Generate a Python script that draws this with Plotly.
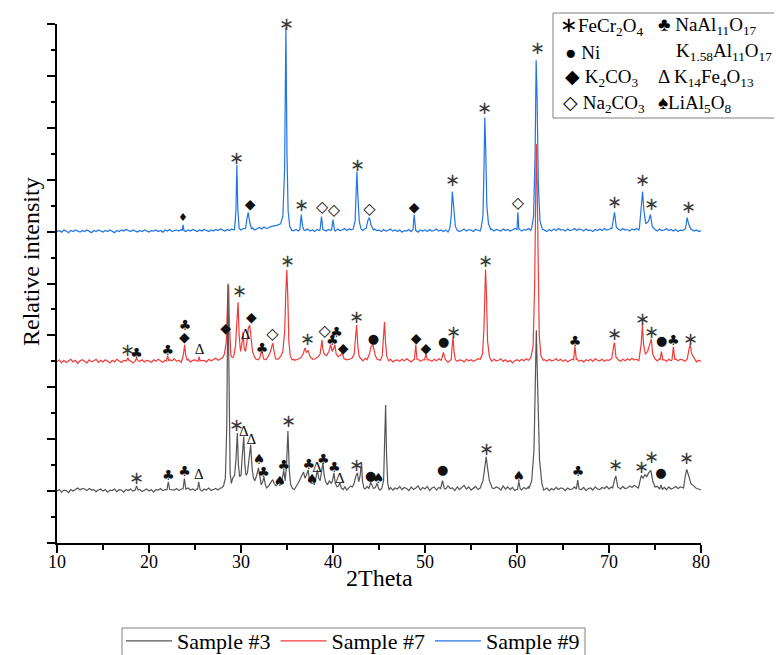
import plotly.graph_objects as go

# ---------------- data ----------------
series_names = ["Sample #3", "Sample #7", "Sample #9"]
series_offsets = [1.0, 3.49, 6.0]          # vertical offsets of the stacked patterns
grid_start = 10.0                           # 2Theta of first baseline sample
grid_step = 0.25                            # 2Theta step of baseline samples

# baseline noise (hundredths of an intensity unit), 10..80 step 0.25
s3_noise = [0,3,-2,2, 1,-3,3,0, 3,6,2,5, 4,1,5,2, 3,-1,2,4, 0,3,-2,2, 1,4,-1,3, 2,-2,3,1, 4,0,3,2, 3,-1,2,4,
            0,3,-2,3, 2,5,1,3, 4,0,3,2, 5,1,4,2, 3,6,2,4, 1,5,3,0, 4,2,6,1, 3,5,2,6, 5,8,6,9, 8,6,9,7,
            8,6,9,7, 6,8,5,7, 6,9,7,8, 10,7,9,8, 6,9,7,10, 8,11,9,12, 10,13,11,14, 12,10,13,11, 12,14,10,13, 11,9,12,10,
            9,7,10,8, 6,9,5,8, 7,10,6,9, 8,5,9,6, 7,4,8,5, 6,2,5,1, 3,7,2,6, 4,9,3,7, 5,1,8,3, 6,10,2,7,
            4,9,1,6, 8,2,7,3, 9,4,10,5, 6,1,8,3, 7,11,4,8, 2,6,9,3, 8,4,11,5, 3,9,5,8, 6,2,10,4, 8,3,7,1,
            5,9,2,7, 4,8,3,6, 2,-1,4,0, 3,6,1,5, 2,7,3,6, 5,1,6,3, 4,8,2,6, 3,7,1,5, 6,2,8,4, 3,7,5,9,
            4,8,6,10, 7,4,9,5, 6,10,7,11, 8,5,10,6, 7,11,8,12, 6,9,5,8, 7,3,8,4, 6,9,5,8, 7,4,9,5, 3,6,1,4,
            2]
s7_noise = [0,4,-2,3, -1,2,5,0, 3,-3,2,4, 1,-2,4,0, 2,5,-1,3, 0,4,1,-2, 3,0,5,2, -1,3,1,4, 2,-2,3,5, 1,4,0,3,
            2,-1,4,1, 5,2,-1,3, 0,4,2,6, 1,3,-1,4, 2,5,0,3, 4,1,6,2, 3,0,5,2, 4,7,3,6, 5,8,4,7, 6,3,8,5,
            7,4,9,6, 5,8,4,7, 3,6,2,5, 4,7,3,6, 5,2,6,3, 4,7,2,5, 6,3,8,4, 7,5,9,6, 4,8,5,7, 6,9,5,8,
            7,4,8,5, 3,6,2,5, 4,1,5,3, 6,2,7,4, 5,8,4,7, 3,6,1,4, 2,5,0,3, 4,1,5,2, 6,3,0,4, 2,5,1,4,
            3,0,4,1, 5,2,6,3, 1,4,-1,3, 2,5,1,4, 3,0,5,2, 4,1,3,6, 2,5,0,3, 4,1,5,2, 3,6,1,4, 0,3,-2,2,
            4,1,5,2, 6,3,1,4, 2,-1,3,0, 4,1,5,2, 3,6,2,5, 1,4,0,3, 5,2,6,1, 3,0,4,2, 5,1,6,3, 2,5,1,4,
            3,6,2,5, 4,1,5,2, 6,3,7,4, 5,2,6,3, 4,7,3,6, 5,2,6,3, 4,1,5,2, 3,6,2,5, 4,1,3,5, 2,4,0,3,
            1]
s9_noise = [0,2,-1,3, 1,-2,2,0, 3,1,-1,2, 0,3,1,-2, 2,0,3,1, -1,2,0,3, 1,-2,2,0, 3,1,4,2, 0,3,1,-1, 2,0,3,1,
            -1,2,1,3, 0,2,-1,3, 1,4,0,2, 3,1,4,2, 0,3,1,4, 2,0,3,1, 4,2,0,3, 1,4,2,5, 3,1,4,2, 5,3,6,4,
            3,6,2,5, 4,7,3,6, 8,5,9,6, 10,7,11,8, 9,12,8,11, 6,3,5,2, 4,1,3,0, 2,5,1,3, 0,4,2,5, 3,1,4,2,
            4,1,5,2, 3,6,2,5, 4,7,3,6, 5,2,6,3, 4,1,5,2, 3,0,4,1, 2,5,1,3, 0,3,-1,2, 1,4,0,3, 2,-1,3,1,
            3,0,4,1, 2,5,1,3, 0,3,-1,2, 4,1,3,0, 2,5,1,4, 3,0,4,2, 1,4,0,3, 2,5,1,4, 3,1,5,2, 4,1,3,6,
            2,5,1,4, 3,6,2,5, 4,1,5,2, 3,0,4,1, 5,2,6,3, 4,1,5,2, 3,6,2,5, 4,1,5,2, 3,0,4,2, 5,2,6,3,
            4,7,3,6, 5,2,6,3, 4,1,5,3, 6,3,7,4, 5,2,6,3, 4,1,5,2, 3,6,2,4, 1,4,0,3, 2,5,3,6, 4,1,3,0,
            2]

# diffraction peaks: groups of (2Theta, intensity above baseline)
s3_peaks = [
    [(18.5, 0.02), (18.65, 0.10), (18.8, 0.02)],
    [(21.95, 0.03), (22.1, 0.18), (22.25, 0.03)],
    [(23.7, 0.04), (23.85, 0.24), (24.0, 0.04)],
    [(25.28, 0.03), (25.4, 0.18), (25.55, 0.03)],
    [(27.9, 0.06), (28.1, 0.10), (28.3, 0.25), (28.45, 1.2), (28.58, 4.0), (28.7, 1.5), (28.82, 0.35),
     (28.95, 0.15), (29.1, 0.25), (29.3, 0.30), (29.45, 0.6), (29.6, 1.12), (29.72, 0.5), (29.85, 0.28),
     (30.0, 0.30), (30.15, 0.7), (30.3, 1.05), (30.42, 0.5), (30.55, 0.30), (30.7, 0.35), (30.9, 0.7),
     (31.05, 0.89), (31.2, 0.45), (31.35, 0.25), (31.5, 0.20), (31.7, 0.30), (31.9, 0.45), (32.05, 0.25),
     (32.2, 0.12), (32.35, 0.18), (32.5, 0.27), (32.65, 0.12), (32.8, 0.06), (33.0, 0.10), (33.2, 0.16),
     (33.45, 0.22), (33.6, 0.15), (33.8, 0.10), (34.0, 0.14), (34.2, 0.18), (34.35, 0.12), (34.5, 0.25),
     (34.65, 0.40), (34.8, 0.20), (34.95, 0.5), (35.1, 1.16), (35.25, 0.4), (35.4, 0.12), (35.6, 0.05),
     (35.8, 0.03), (36.0, 0.08), (36.2, 0.15), (36.4, 0.22), (36.6, 0.30), (36.8, 0.37), (36.95, 0.25),
     (37.1, 0.30), (37.3, 0.41), (37.45, 0.20), (37.6, 0.15), (37.8, 0.25), (37.95, 0.12), (38.1, 0.20),
     (38.3, 0.41), (38.45, 0.25), (38.6, 0.20), (38.75, 0.35), (38.9, 0.54), (39.05, 0.30), (39.2, 0.18),
     (39.4, 0.12), (39.6, 0.20), (39.8, 0.15), (39.95, 0.20), (40.1, 0.35), (40.25, 0.15), (40.45, 0.08),
     (40.6, 0.10), (40.75, 0.16), (40.9, 0.06), (41.1, 0.03), (41.3, 0.08), (41.5, 0.02), (41.7, 0.06),
     (41.9, 0.10), (42.1, 0.08), (42.3, 0.15), (42.5, 0.30), (42.65, 0.35), (42.8, 0.18), (42.95, 0.30),
     (43.1, 0.56), (43.2, 0.20), (43.35, 0.06), (43.5, 0.04), (43.7, 0.09), (43.9, 0.05), (44.1, 0.17),
     (44.25, 0.10), (44.4, 0.05), (44.6, 0.07), (44.8, 0.15), (44.95, 0.05), (45.1, 0.02), (45.3, 0.05),
     (45.5, 0.20), (45.62, 1.0), (45.72, 1.66), (45.82, 0.7), (45.95, 0.15), (46.1, 0.02)],
    [(51.7, 0.05), (51.9, 0.20), (52.1, 0.05)],
    [(56.0, 0.06), (56.3, 0.20), (56.5, 0.50), (56.65, 0.66), (56.8, 0.45), (57.0, 0.20), (57.3, 0.06)],
    [(60.05, 0.04), (60.2, 0.19), (60.35, 0.04)],
    [(61.3, 0.05), (61.6, 0.20), (61.85, 0.8), (62.0, 2.5), (62.1, 3.1), (62.22, 2.2), (62.45, 0.6),
     (62.7, 0.15), (62.9, 0.02)],
    [(66.45, 0.04), (66.6, 0.21), (66.75, 0.04)],
    [(70.4, 0.06), (70.6, 0.22), (70.75, 0.29), (70.95, 0.08)],
    [(73.2, 0.06), (73.5, 0.30), (73.7, 0.25), (73.9, 0.32), (74.1, 0.28), (74.3, 0.35), (74.55, 0.40),
     (74.75, 0.20), (75.0, 0.08)],
    [(75.5, 0.04), (75.65, 0.12), (75.8, 0.03)],
    [(78.1, 0.06), (78.3, 0.30), (78.45, 0.42), (78.65, 0.30), (78.9, 0.15), (79.2, 0.10), (79.5, 0.05)],
]
s7_peaks = [
    [(17.55, 0.02), (17.7, 0.08), (17.85, 0.02)],
    [(18.5, 0.02), (18.65, 0.07), (18.8, 0.02)],
    [(21.9, 0.02), (22.03, 0.12), (22.15, 0.02)],
    [(23.6, 0.04), (23.75, 0.15), (23.87, 0.33), (24.0, 0.12), (24.15, 0.03)],
    [(25.35, 0.02), (25.45, 0.10), (25.55, 0.02)],
    [(27.8, 0.05), (28.0, 0.08), (28.2, 0.15), (28.4, 0.40), (28.55, 1.2), (28.65, 1.48), (28.75, 0.7),
     (28.9, 0.12), (29.05, 0.08), (29.2, 0.10), (29.4, 0.30), (29.55, 0.7), (29.68, 1.15), (29.8, 0.5),
     (29.95, 0.20), (30.1, 0.35), (30.22, 0.58), (30.35, 0.25), (30.5, 0.20), (30.65, 0.40), (30.8, 0.65),
     (30.95, 0.71), (31.1, 0.40), (31.25, 0.20), (31.45, 0.10), (31.65, 0.05), (31.85, 0.04), (32.05, 0.08),
     (32.25, 0.23), (32.45, 0.06), (32.7, 0.04), (32.95, 0.10), (33.2, 0.20), (33.45, 0.36), (33.6, 0.20),
     (33.75, 0.06), (34.0, 0.05), (34.3, 0.10), (34.55, 0.20), (34.75, 0.6), (34.88, 1.4), (34.98, 1.77),
     (35.08, 1.3), (35.2, 0.4), (35.35, 0.12), (35.55, 0.04)],
    [(35.8, 0.03), (36.2, 0.05), (36.5, 0.08), (36.75, 0.15), (36.95, 0.27), (37.1, 0.18), (37.3, 0.22),
     (37.5, 0.10), (37.8, 0.05), (38.1, 0.06), (38.4, 0.10), (38.6, 0.15), (38.8, 0.42), (38.9, 0.25),
     (39.05, 0.15), (39.3, 0.12), (39.55, 0.20), (39.75, 0.33), (39.9, 0.20), (40.05, 0.25), (40.2, 0.33),
     (40.35, 0.15), (40.55, 0.10), (40.8, 0.12), (41.0, 0.17), (41.2, 0.06), (41.5, 0.04), (41.8, 0.05),
     (42.1, 0.08), (42.3, 0.15), (42.45, 0.45), (42.57, 0.71), (42.7, 0.30), (42.85, 0.10), (43.1, 0.05)],
    [(43.7, 0.04), (43.95, 0.15), (44.15, 0.30), (44.35, 0.32), (44.6, 0.12), (44.8, 0.05)],
    [(45.15, 0.03), (45.35, 0.12), (45.5, 0.45), (45.6, 0.77), (45.7, 0.40), (45.85, 0.10), (46.05, 0.02)],
    [(48.85, 0.05), (49.0, 0.33), (49.12, 0.05)],
    [(49.95, 0.04), (50.1, 0.15), (50.25, 0.04)],
    [(51.8, 0.05), (52.0, 0.18), (52.2, 0.05)],
    [(52.85, 0.05), (52.95, 0.30), (53.05, 0.48), (53.15, 0.20), (53.3, 0.04)],
    [(56.0, 0.05), (56.25, 0.15), (56.4, 0.6), (56.5, 1.5), (56.58, 1.78), (56.68, 1.3), (56.8, 0.4),
     (57.0, 0.10), (57.2, 0.04)],
    [(61.5, 0.08), (61.75, 0.30), (61.92, 1.5), (62.02, 3.2), (62.1, 4.2), (62.18, 3.5), (62.28, 1.6),
     (62.42, 0.5), (62.6, 0.12), (62.85, 0.03)],
    [(66.15, 0.04), (66.3, 0.30), (66.45, 0.04)],
    [(70.3, 0.06), (70.5, 0.30), (70.6, 0.37), (70.75, 0.10)],
    [(73.3, 0.08), (73.5, 0.35), (73.63, 0.71), (73.75, 0.35), (73.95, 0.15), (74.2, 0.20), (74.45, 0.35),
     (74.6, 0.44), (74.75, 0.15), (75.0, 0.06)],
    [(75.55, 0.04), (75.7, 0.20), (75.85, 0.04)],
    [(76.85, 0.04), (77.0, 0.29), (77.15, 0.04)],
    [(78.5, 0.05), (78.7, 0.25), (78.82, 0.33), (79.0, 0.15), (79.25, 0.06)],
]
s9_peaks = [
    [(23.6, 0.02), (23.7, 0.13), (23.8, 0.02)],
    [(29.3, 0.05), (29.45, 0.40), (29.55, 1.29), (29.65, 0.45), (29.8, 0.06)],
    [(30.5, 0.06), (30.65, 0.25), (30.78, 0.37), (30.95, 0.18), (31.15, 0.05)],
    [(32.8, 0.06), (33.3, 0.10), (33.9, 0.12), (34.3, 0.15), (34.55, 0.30), (34.74, 1.2), (34.88, 3.93),
     (35.0, 1.5), (35.12, 0.4), (35.3, 0.10), (35.55, 0.02)],
    [(36.4, 0.04), (36.55, 0.33), (36.7, 0.10), (36.85, 0.03)],
    [(38.6, 0.04), (38.75, 0.29), (38.9, 0.04)],
    [(39.85, 0.04), (40.0, 0.23), (40.15, 0.04)],
    [(42.2, 0.05), (42.4, 0.20), (42.52, 0.8), (42.6, 1.16), (42.7, 0.7), (42.85, 0.20), (43.05, 0.05)],
    [(43.6, 0.06), (43.8, 0.22), (43.95, 0.27), (44.15, 0.12), (44.4, 0.03)],
    [(48.7, 0.04), (48.82, 0.33), (48.95, 0.04)],
    [(52.7, 0.06), (52.85, 0.30), (52.97, 0.77), (53.1, 0.45), (53.3, 0.10), (53.5, 0.03)],
    [(56.1, 0.07), (56.3, 0.30), (56.42, 1.3), (56.5, 2.2), (56.6, 1.6), (56.72, 0.5), (56.9, 0.15),
     (57.15, 0.04)],
    [(60.0, 0.04), (60.1, 0.37), (60.2, 0.04)],
    [(61.6, 0.07), (61.8, 0.30), (61.97, 1.5), (62.08, 3.3), (62.18, 2.6), (62.32, 0.9), (62.5, 0.20),
     (62.75, 0.05)],
    [(70.3, 0.05), (70.5, 0.30), (70.6, 0.37), (70.8, 0.08)],
    [(73.3, 0.06), (73.5, 0.40), (73.65, 0.77), (73.8, 0.40), (74.0, 0.15), (74.3, 0.20), (74.5, 0.33),
     (74.7, 0.10), (74.95, 0.04)],
    [(78.3, 0.05), (78.5, 0.27), (78.65, 0.15), (78.9, 0.05)],
]

# phase markers: (2Theta, intensity, symbol)
s3_marks = [(18.65, 1.23, "∗"), (22.1, 1.29, "♣"), (23.85, 1.35, "♣"), (25.41, 1.31, "Δ"),
            (29.55, 2.24, "∗"), (30.32, 2.14, "Δ"), (31.12, 1.98, "Δ"), (31.95, 1.59, "♠"),
            (32.46, 1.34, "♣"), (34.21, 1.16, "♠"), (34.65, 1.47, "♣"), (35.11, 2.32, "∗"),
            (37.37, 1.50, "♣"), (37.73, 1.21, "♠"), (38.28, 1.44, "Δ"), (38.93, 1.59, "♣"),
            (40.13, 1.43, "♣"), (40.75, 1.23, "Δ"), (42.5, 1.47, "∗"), (44.1, 1.28, "●"),
            (44.93, 1.23, "♠"), (51.91, 1.39, "●"), (56.67, 1.78, "∗"), (60.2, 1.26, "♠"),
            (66.63, 1.36, "♣"), (70.74, 1.48, "∗"), (73.54, 1.44, "∗"), (74.63, 1.62, "∗"),
            (75.65, 1.33, "●"), (78.45, 1.60, "∗")]
s7_marks = [(17.67, 3.69, "∗"), (18.65, 3.64, "♣"), (22.03, 3.69, "♣"), (23.92, 4.18, "♣"),
            (23.85, 3.94, "◆"), (25.49, 3.72, "Δ"), (28.32, 4.12, "◆"), (29.85, 4.82, "∗"),
            (30.5, 4.00, "Δ"), (31.12, 4.33, "◆"), (32.28, 3.73, "♣"), (33.41, 4.00, "◇"),
            (35.08, 5.40, "∗"), (37.23, 3.90, "∗"), (39.1, 4.07, "◇"), (39.91, 3.88, "♣"),
            (40.39, 4.04, "♣"), (41.11, 3.73, "◆"), (42.57, 4.33, "∗"), (44.38, 3.92, "●"),
            (49.04, 3.92, "◆"), (50.1, 3.72, "◆"), (52.02, 3.86, "●"), (53.11, 4.04, "∗"),
            (56.57, 5.41, "∗"), (66.3, 3.86, "♣"), (70.56, 3.99, "∗"), (73.65, 4.28, "∗"),
            (74.67, 4.03, "∗"), (75.72, 3.87, "●"), (76.99, 3.89, "♣"), (78.84, 3.91, "∗")]
s9_marks = [(23.7, 6.26, "♦"), (29.55, 7.39, "∗"), (31.0, 6.51, "◆"), (34.94, 9.98, "∗"),
            (36.57, 6.48, "∗"), (38.82, 6.45, "◇"), (40.1, 6.40, "◇"), (42.68, 7.25, "∗"),
            (43.95, 6.42, "◇"), (48.82, 6.44, "◆"), (53.0, 6.96, "∗"), (56.46, 8.36, "∗"),
            (60.09, 6.53, "◇"), (62.2, 9.50, "∗"), (70.63, 6.55, "∗"), (73.69, 6.96, "∗"),
            (74.67, 6.51, "∗"), (78.6, 6.44, "∗")]

x_ticks = [10, 20, 30, 40, 50, 60, 70, 80]

# ---------------- styles ----------------
colors = ["#555555", "#f03a3a", "#1f74e6"]
SERIF = "Liberation Serif, Times New Roman, serif"
SYM_FONT = {"∗": (SERIF, 18), "♣": ("DejaVu Sans", 14), "♠": ("DejaVu Sans", 14),
            "●": ("DejaVu Sans", 13), "◆": ("DejaVu Sans", 14), "♦": ("DejaVu Sans", 11),
            "◇": ("DejaVu Sans", 16), "Δ": (SERIF, 15)}
SYM_COLOR = {"∗": "#3a3a3a"}


def build(noise, peaks, offset):
    spans = [(g[0][0], g[-1][0]) for g in peaks]
    pts = []
    for i, v in enumerate(noise):
        x = grid_start + i * grid_step
        if any(a <= x <= b for a, b in spans):
            continue
        pts.append((x, v * 0.01))
    for g in peaks:
        pts.extend(g)
    pts.sort()
    return [p[0] for p in pts], [p[1] + offset for p in pts]


fig = go.Figure()
all_noise = [s3_noise, s7_noise, s9_noise]
all_peaks = [s3_peaks, s7_peaks, s9_peaks]
all_marks = [s3_marks, s7_marks, s9_marks]

for idx in [2, 1, 0]:
    xs, ys = build(all_noise[idx], all_peaks[idx], series_offsets[idx])
    fig.add_trace(go.Scatter(x=xs, y=ys, mode="lines", name=series_names[idx],
                             line=dict(color=colors[idx], width=1.2), hoverinfo="skip"))

for idx in range(3):
    m = all_marks[idx]
    fig.add_trace(go.Scatter(
        x=[p[0] for p in m], y=[p[1] for p in m], text=[p[2] for p in m],
        mode="text", textposition="middle center", showlegend=False, hoverinfo="skip",
        cliponaxis=False,
        textfont=dict(family=[SYM_FONT[p[2]][0] for p in m], size=[SYM_FONT[p[2]][1] for p in m],
                      color=[SYM_COLOR.get(p[2], "#111111") for p in m])))

# page has an 8px body margin; figure occupies page pixels 8..782 x 8..655
OFF = 8
W, H = 782 - OFF, 655 - OFF
L, R, T, B = 57 - OFF, 81, 24 - OFF, 112
PW, PH = W - L - R, H - T - B


def px(p):
    return (p - OFF - L) / PW


def py(p):
    return (H - B - (p - OFF)) / PH


fig.update_layout(
    width=W, height=H, margin=dict(l=L, r=R, t=T, b=B, pad=0, autoexpand=False),
    paper_bgcolor="white", plot_bgcolor="white",
    font=dict(family=SERIF, color="black"),
    showlegend=True,
    legend=dict(orientation="h", x=px(121), y=py(620), xanchor="left", yanchor="top",
                traceorder="reversed", font=dict(family=SERIF, size=22, color="black"),
                borderwidth=0, bgcolor="rgba(0,0,0,0)", itemwidth=46,
                tracegroupgap=0),
    xaxis=dict(range=[10, 80], tickvals=x_ticks, ticks="outside", ticklen=8, tickwidth=1.5,
               tickcolor="black", showline=True, linecolor="black", linewidth=1.5,
               showgrid=False, zeroline=False, tickfont=dict(family=SERIF, size=18),
               automargin=False, ticklabelstandoff=-6,
               minor=dict(dtick=5, ticks="outside", ticklen=5, tickwidth=1.5, tickcolor="black")),
    yaxis=dict(range=[0, 10], dtick=1, tick0=0, ticks="outside", ticklen=8, tickwidth=1.5,
               tickcolor="black", showline=True, linecolor="black", linewidth=1.5,
               showgrid=False, zeroline=False, showticklabels=False, automargin=False,
               minor=dict(dtick=0.5, ticks="outside", ticklen=4, tickwidth=1.5, tickcolor="black")),
)

annotations = [
    dict(text="2Theta", x=px(379), y=py(578), xanchor="center", yanchor="middle",
         font=dict(family=SERIF, size=24)),
    dict(text="Relative intensity", x=px(31), y=py(262), xanchor="center", yanchor="middle",
         textangle=-90, font=dict(family=SERIF, size=24)),
]
legend_rows = [
    (558, 26, "<span style='font-size:21px'>∗</span>FeCr<sub>2</sub>O<sub>4</sub>"),
    (656, 26, "♣ NaAl<sub>11</sub>O<sub>17</sub>"),
    (563, 52, "● Ni"),
    (674, 52, "K<sub>1.58</sub>Al<sub>11</sub>O<sub>17</sub>"),
    (563, 78, "◆ K<sub>2</sub>CO<sub>3</sub>"),
    (656, 78, "Δ K<sub>14</sub>Fe<sub>4</sub>O<sub>13</sub>"),
    (561, 104, "◇ Na<sub>2</sub>CO<sub>3</sub>"),
    (656, 104, "♠LiAl<sub>5</sub>O<sub>8</sub>"),
]
for lx, ly, t in legend_rows:
    annotations.append(dict(text=t, x=px(lx), y=py(ly), xanchor="left", yanchor="middle",
                            font=dict(family=SERIF, size=19, color="black")))
for a in annotations:
    a.update(xref="paper", yref="paper", showarrow=False)
fig.update_layout(annotations=annotations)

# frames of the two legends
fig.add_shape(type="rect", xref="paper", yref="paper", x0=px(553), x1=px(781), y0=py(118), y1=py(13),
              line=dict(color="#808080", width=1), fillcolor="rgba(0,0,0,0)", layer="above")
fig.add_shape(type="rect", xref="paper", yref="paper", x0=px(122), x1=px(585), y0=py(662), y1=py(628),
              line=dict(color="#808080", width=1), fillcolor="rgba(0,0,0,0)", layer="above")

fig.write_html("out.html")
